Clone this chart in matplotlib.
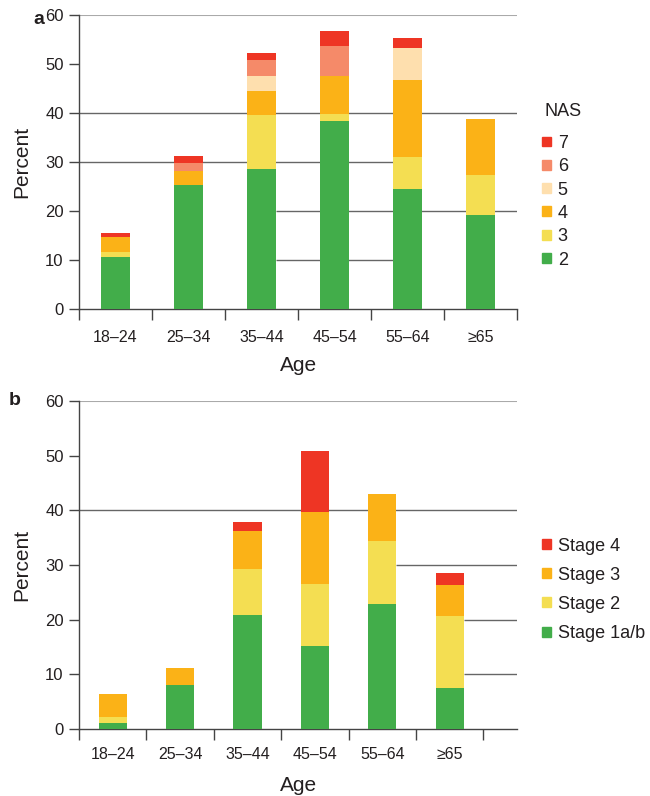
# NAFLD activity score / fibrosis stage by age group — stacked bars
import matplotlib
matplotlib.use('Agg')
import matplotlib.pyplot as plt
from matplotlib.patches import Patch
import numpy as np

plt.rcParams['font.family'] = ['Liberation Sans', 'DejaVu Sans']
TXT = '#231f20'
plt.rcParams['text.color'] = TXT
plt.rcParams['axes.labelcolor'] = TXT
plt.rcParams['xtick.color'] = '#444444'
plt.rcParams['ytick.color'] = '#444444'
plt.rcParams['xtick.labelcolor'] = TXT
plt.rcParams['ytick.labelcolor'] = TXT

# Data (percent)
ages = ['18–24', '25–34', '35–44', '45–54', '55–64', '≥65']

nas2 = [10.7, 25.3, 28.5, 38.4, 24.4, 19.2]
nas3 = [1.0, 0.0, 11.1, 1.5, 6.7, 8.2]
nas4 = [2.9, 2.8, 4.8, 7.7, 15.6, 11.3]
nas5 = [0.0, 0.0, 3.2, 0.0, 6.6, 0.0]
nas6 = [0.0, 1.6, 3.2, 6.1, 0.0, 0.0]
nas7 = [0.9, 1.6, 1.5, 3.0, 2.0, 0.0]
nas_labels = ['2', '3', '4', '5', '6', '7']

stage1 = [1.1, 8.0, 20.8, 15.2, 22.8, 7.5]
stage2 = [1.0, 0.0, 8.5, 11.3, 11.5, 13.2]
stage3 = [4.3, 3.2, 7.0, 13.2, 8.6, 5.7]
stage4 = [0.0, 0.0, 1.6, 11.2, 0.0, 2.1]
stage_labels = ['Stage 1a/b', 'Stage 2', 'Stage 3', 'Stage 4']

GREEN, YELLOW, ORANGE = '#42ad4a', '#f4de52', '#fbb217'
PEACH, SALMON, RED = '#fedfae', '#f58a69', '#ee3524'

fig = plt.figure(figsize=(6.5, 7.96), dpi=100)
ax_a = fig.add_axes([0.1215, 0.6118, 0.674, 0.3693])
ax_b = fig.add_axes([0.1215, 0.0842, 0.674, 0.4120])


def stacked(ax, series, colors, width):
    x = np.arange(len(ages))
    bottom = np.zeros(len(ages))
    for vals, c in zip(series, colors):
        ax.bar(x, vals, width, bottom=bottom, color=c, edgecolor='none', zorder=3)
        bottom += np.array(vals)
    return x


def style(ax, xmax, tickpad, xlabpad):
    ax.set_ylim(0, 60)
    ax.set_xlim(-0.5, xmax)
    ax.set_yticks(range(0, 61, 10))
    ax.tick_params(axis='y', length=7, width=1, pad=4, labelsize=12)
    # boundaries get tick marks, centres get the labels
    ax.set_xticks(np.arange(-0.5, xmax + 0.01, 1))
    ax.set_xticklabels([])
    ax.set_xticks(np.arange(len(ages)), minor=True)
    ax.set_xticklabels(ages, minor=True)
    ax.tick_params(axis='x', which='major', length=8, width=1)
    ax.tick_params(axis='x', which='minor', length=0, pad=tickpad, labelsize=11.5)
    for s in ['top', 'right']:
        ax.spines[s].set_visible(False)
    for s in ['left', 'bottom']:
        ax.spines[s].set_color('#444444')
        ax.spines[s].set_linewidth(1)
    ax.set_ylabel('Percent', fontsize=15, labelpad=10)
    ax.set_xlabel('Age', fontsize=15, labelpad=xlabpad)
    ax.axhline(60, color='#aaaaaa', lw=1.5, zorder=1)


# ---- panel a ----
wa = 0.40
stacked(ax_a, [nas2, nas3, nas4, nas5, nas6, nas7],
        [GREEN, YELLOW, ORANGE, PEACH, SALMON, RED], wa)
style(ax_a, 5.5, 15, 8)
gl = dict(color='#666666', lw=1, zorder=1)
ax_a.hlines(10, 2 + wa / 2, 4 - wa / 2, **gl)
ax_a.hlines(20, 2 + wa / 2, 5.5, **gl)
ax_a.hlines(30, -0.5, 4 - wa / 2, **gl)
ax_a.hlines(40, -0.5, 5.5, **gl)

# ---- panel b ----
wb = 0.42
stacked(ax_b, [stage1, stage2, stage3, stage4], [GREEN, YELLOW, ORANGE, RED], wb)
style(ax_b, 6.0, 13, 10)
ax_b.hlines(10, 5 + wb / 2, 6.0, **gl)
ax_b.hlines(20, 5 + wb / 2, 6.0, **gl)
ax_b.hlines(30, 4 + wb / 2, 6.0, **gl)
ax_b.hlines(40, -0.5, 6.0, **gl)

# legends
leg_kw = dict(loc='upper left', frameon=False, fontsize=13, borderpad=0,
              borderaxespad=0, handlelength=0.47, handleheight=0.47,
              handletextpad=0.4)
fig.text(544 / 650, 1 - 103 / 796, 'NAS', fontsize=13, va='top', ha='left')
h_a = [Patch(color=c) for c in [RED, SALMON, PEACH, ORANGE, YELLOW, GREEN]]
fig.legend(h_a, nas_labels[::-1], bbox_to_anchor=(0.834, 0.8305),
           labelspacing=0.35, **leg_kw)
h_b = [Patch(color=c) for c in [RED, ORANGE, YELLOW, GREEN]]
fig.legend(h_b, stage_labels[::-1], bbox_to_anchor=(0.834, 0.3245),
           labelspacing=0.67, **leg_kw)

# panel letters
fig.text(0.051, 0.975, 'a', fontsize=14, fontweight='bold', va='center')
fig.text(0.014, 0.497, 'b', fontsize=14, fontweight='bold', va='center')

fig.savefig('out.png', dpi=100)
